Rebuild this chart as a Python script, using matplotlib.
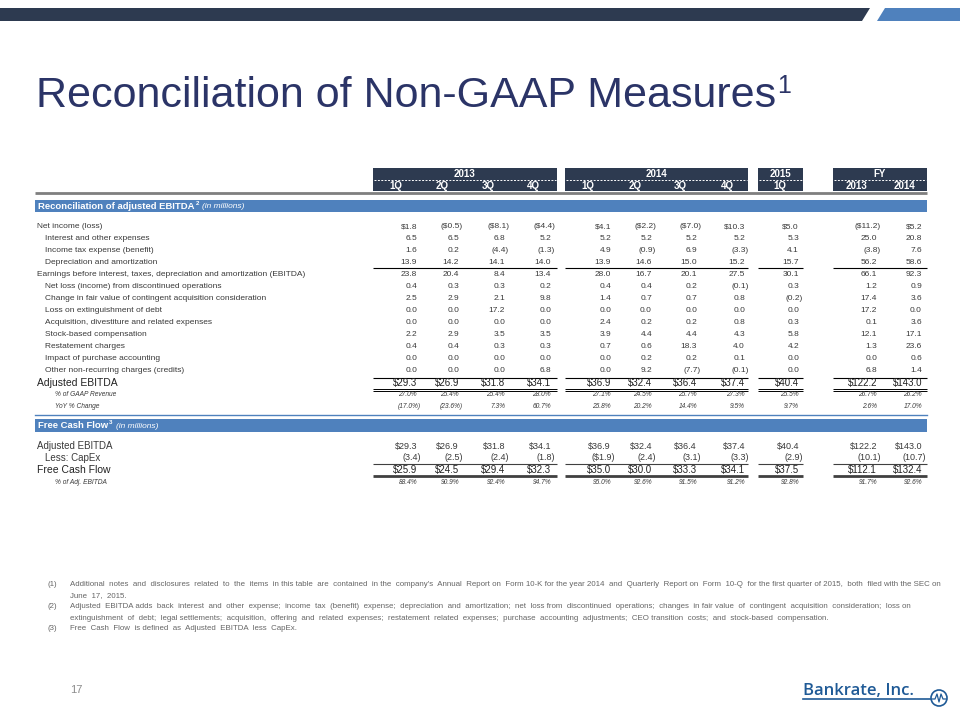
import matplotlib
matplotlib.use('Agg')
import matplotlib.pyplot as plt
from matplotlib.patches import Rectangle, Polygon, Circle

plt.rcParams['font.family'] = ['Liberation Sans', 'DejaVu Sans']

NAVY = '#2d3a50'
BLUE = '#4f81bd'
TITLE_C = '#2b3467'
TXT = '#3a3a3a'
GRAY = '#666666'

# ---- data (in millions) ----
years = ['2013', '2014', '2015', 'FY']
col_heads = ['1Q', '2Q', '3Q', '4Q', '1Q', '2Q', '3Q', '4Q', '1Q', '2013', '2014']

net_income = [1.8, -0.5, -8.1, -4.4, 4.1, -2.2, -7.0, 10.3, 5.0, -11.2, 5.2]
interest = [6.5, 6.5, 6.8, 5.2, 5.2, 5.2, 5.2, 5.2, 5.3, 25.0, 20.8]
income_tax = [1.6, 0.2, -4.4, -1.3, 4.9, -0.9, 6.9, -3.3, 4.1, -3.8, 7.6]
dep_amort = [13.9, 14.2, 14.1, 14.0, 13.9, 14.6, 15.0, 15.2, 15.7, 56.2, 58.6]
ebitda = [23.8, 20.4, 8.4, 13.4, 28.0, 16.7, 20.1, 27.5, 30.1, 66.1, 92.3]
disc_ops = [0.4, 0.3, 0.3, 0.2, 0.4, 0.4, 0.2, -0.1, 0.3, 1.2, 0.9]
contingent = [2.5, 2.9, 2.1, 9.8, 1.4, 0.7, 0.7, 0.8, -0.2, 17.4, 3.6]
debt_loss = [0.0, 0.0, 17.2, 0.0, 0.0, 0.0, 0.0, 0.0, 0.0, 17.2, 0.0]
acquisition = [0.0, 0.0, 0.0, 0.0, 2.4, 0.2, 0.2, 0.8, 0.3, 0.1, 3.6]
stock_comp = [2.2, 2.9, 3.5, 3.5, 3.9, 4.4, 4.4, 4.3, 5.8, 12.1, 17.1]
restatement = [0.4, 0.4, 0.3, 0.3, 0.7, 0.6, 18.3, 4.0, 4.2, 1.3, 23.6]
purchase_acct = [0.0, 0.0, 0.0, 0.0, 0.0, 0.2, 0.2, 0.1, 0.0, 0.0, 0.6]
other_charges = [0.0, 0.0, 0.0, 6.8, 0.0, 9.2, -7.7, -0.1, 0.0, 6.8, 1.4]
adj_ebitda = [29.3, 26.9, 31.8, 34.1, 36.9, 32.4, 36.4, 37.4, 40.4, 122.2, 143.0]
pct_revenue = [27.0, 25.4, 25.4, 28.0, 27.1, 24.5, 25.7, 27.3, 25.5, 26.7, 26.2]
yoy_change = [-17.0, -23.6, 7.3, 60.7, 25.8, 20.2, 14.4, 9.5, 9.7, 2.6, 17.0]

capex = [-3.4, -2.5, -2.4, -1.8, -1.9, -2.4, -3.1, -3.3, -2.9, -10.1, -10.7]
capex_dollar_cols = [4]
free_cash_flow = [25.9, 24.5, 29.4, 32.3, 35.0, 30.0, 33.3, 34.1, 37.5, 112.1, 132.4]
pct_adj_ebitda = [88.4, 90.9, 92.4, 94.7, 95.0, 92.6, 91.5, 91.2, 92.8, 91.7, 92.6]

footnotes = [
    ('(1)', ["Additional  notes  and  disclosures  related  to  the  items  in this table  are  contained  in the  company's  Annual  Report on  Form 10-K for the year 2014  and  Quarterly  Report on  Form  10-Q  for the first quarter of 2015,  both  filed with the SEC on",
             "June  17,  2015."]),
    ('(2)', ["Adjusted  EBITDA adds  back  interest  and  other  expense;  income  tax  (benefit)  expense;  depreciation  and  amortization;  net  loss from  discontinued  operations;  changes  in fair value  of  contingent  acquisition  consideration;  loss on",
             "extinguishment  of  debt;  legal settlements;  acquisition,  offering  and  related  expenses;  restatement  related  expenses;  purchase  accounting  adjustments;  CEO transition  costs;  and  stock-based  compensation."]),
    ('(3)', ["Free  Cash  Flow  is defined  as  Adjusted  EBITDA  less  CapEx."]),
]

# ---- layout (pixels) ----
col_right = [417, 459, 505, 551, 611, 652, 697, 745, 799, 877, 922]
head_x = [396, 442, 488, 533, 588, 635, 680, 727, 780, 857, 905]
spans = [(373, 557), (565, 748), (758, 803), (833, 927)]
L, R = 35, 927

fig = plt.figure(figsize=(9.6, 7.2), dpi=100)
ax = fig.add_axes([0, 0, 1, 1])
ax.set_xlim(0, 960)
ax.set_ylim(720, 0)
ax.axis('off')
renderer = fig.canvas.get_renderer()


def run(x, y, parts):
    # draw consecutive text pieces, each starts where the last ended
    for s, kw in parts:
        dy = kw.pop('dy', 0)
        gap = kw.pop('gap', 1)
        t = ax.text(x, y + dy, s, ha='left', **kw)
        x = t.get_window_extent(renderer).x1 + gap
    return x


def fmt(v, dollar=False, pct=False):
    s = f'{abs(v):.1f}'
    if pct:
        s += '%'
    if dollar:
        s = '$' + s
    if v < 0:
        s = '(' + s + ')'
    return s


def value_row(y, vals, dollar=False, pct=False, size=6, color=TXT, style='normal',
              dollar_cols=()):
    for i, v in enumerate(vals):
        s = fmt(v, dollar or i in dollar_cols, pct)
        x = col_right[i] + (4 if v < 0 else 0)
        ax.text(x, y, s, ha='right', va='center', fontsize=size, color=color,
                fontstyle=style)


def group_lines(y, color='black', lw=0.8):
    for x0, x1 in spans:
        ax.plot([x0, x1], [y, y], color=color, lw=lw, solid_capstyle='butt')


# top banner
ax.add_patch(Polygon([(0, 8), (870, 8), (862, 21), (0, 21)], closed=True, color=NAVY, lw=0))
ax.add_patch(Polygon([(885, 8), (960, 8), (960, 21), (877, 21)], closed=True, color=BLUE, lw=0))

# title
run(36, 107, [('Reconciliation of Non-GAAP Measures', dict(fontsize=31, color=TITLE_C, va='baseline')),
              ('1', dict(fontsize=18, color=TITLE_C, va='baseline', dy=-14))])

# column header boxes
for (x0, x1), yr in zip(spans, years):
    ax.add_patch(Rectangle((x0, 168), x1 - x0, 23, color=NAVY, lw=0))
    ax.text((x0 + x1) / 2, 174, yr, ha='center', va='center', fontsize=7,
            color='white', fontweight='bold')
    ax.plot([x0 + 1, x1 - 1], [180, 180], color='white', lw=0.7, ls=(0, (2, 1.5)))
for x, h in zip(head_x, col_heads):
    ax.text(x, 186, h, ha='center', va='center', fontsize=7, color='white', fontweight='bold')
ax.plot([L, R], [192.5, 192.5], color='#7f7f7f', lw=2, solid_capstyle='butt')

# section 1
ax.add_patch(Rectangle((L, 200), R - L, 12, color=BLUE, lw=0))
run(38, 206.5, [('Reconciliation of adjusted EBITDA', dict(fontsize=6.8, color='white', fontweight='bold', va='center')),
                ('2', dict(fontsize=4.5, color='white', fontweight='bold', va='center', dy=-3, gap=3)),
                ('(in millions)', dict(fontsize=6, color='white', fontstyle='italic', va='center', dy=0.5))])

rows = [
    ('Net income (loss)', 37, net_income, True),
    ('Interest and other expenses', 45, interest, False),
    ('Income tax expense (benefit)', 45, income_tax, False),
    ('Depreciation and amortization', 45, dep_amort, False),
    ('Earnings before interest, taxes, depreciation and amortization (EBITDA)', 37, ebitda, False),
    ('Net loss (income) from discontinued operations', 45, disc_ops, False),
    ('Change in fair value of contingent acquisition consideration', 45, contingent, False),
    ('Loss on extinguishment of debt', 45, debt_loss, False),
    ('Acquisition, divestiture and related expenses', 45, acquisition, False),
    ('Stock-based compensation', 45, stock_comp, False),
    ('Restatement charges', 45, restatement, False),
    ('Impact of purchase accounting', 45, purchase_acct, False),
    ('Other non-recurring charges (credits)', 45, other_charges, False),
]
y = 227
for label, x, vals, dollar in rows:
    ax.text(x, y, label, ha='left', va='center', fontsize=6, color=TXT)
    value_row(y, vals, dollar=dollar)
    y += 12

group_lines(267.5)
group_lines(377.5)

ax.text(37, 383, 'Adjusted EBITDA', ha='left', va='center', fontsize=7.5, color='#222222')
value_row(383, adj_ebitda, dollar=True, size=7, color='#222222')
group_lines(388.5, lw=0.7)
group_lines(391, lw=0.7)

ax.text(55, 394.5, '% of GAAP Revenue', ha='left', va='center', fontsize=4.8, color=TXT, fontstyle='italic')
value_row(394.5, pct_revenue, pct=True, size=4.8, style='italic')
ax.text(55, 406.5, 'YoY % Change', ha='left', va='center', fontsize=4.8, color=TXT, fontstyle='italic')
value_row(406.5, yoy_change, pct=True, size=4.8, style='italic')

ax.plot([L, R], [415, 415], color=BLUE, lw=1)

# section 2
ax.add_patch(Rectangle((L, 419), R - L, 13, color=BLUE, lw=0))
run(38, 425.5, [('Free Cash Flow', dict(fontsize=6.8, color='white', fontweight='bold', va='center')),
                ('3', dict(fontsize=4.5, color='white', fontweight='bold', va='center', dy=-3, gap=3)),
                ('(in millions)', dict(fontsize=6, color='white', fontstyle='italic', va='center', dy=0.5))])

ax.text(37, 446, 'Adjusted EBITDA', ha='left', va='center', fontsize=7, color=TXT)
value_row(446, adj_ebitda, dollar=True, size=6.5)
ax.text(45, 458, 'Less: CapEx', ha='left', va='center', fontsize=7, color=TXT)
value_row(458, capex, size=6.5, dollar_cols=capex_dollar_cols)
group_lines(464, color='#404040', lw=0.8)
ax.text(37, 470, 'Free Cash Flow', ha='left', va='center', fontsize=7.5, color='#222222')
value_row(470, free_cash_flow, dollar=True, size=7, color='#222222')
group_lines(476, color='#404040', lw=2)
ax.text(55, 482, '% of Adj. EBITDA', ha='left', va='center', fontsize=4.8, color=TXT, fontstyle='italic')
value_row(482, pct_adj_ebitda, pct=True, size=4.8, style='italic')

# footnotes
fy = 585
for num, lines in footnotes:
    ax.text(47, fy, num, ha='left', va='center', fontsize=5.7, color=GRAY)
    for line in lines:
        ax.text(70, fy, line, ha='left', va='center', fontsize=5.7, color=GRAY)
        fy += 11

# page number
ax.text(70, 690, '17', ha='left', va='center', fontsize=8, color='#8c8c8c')

# logo
LOGO = '#1f5a96'
ax.text(803, 695, 'Bankrate, Inc.', ha='left', va='baseline', fontsize=12,
        color=LOGO, family=['Open Sans', 'DejaVu Sans'], fontweight='semibold')
ax.plot([803, 930], [699, 699], color=LOGO, lw=1.2)
ax.add_patch(Circle((939, 698), 8, fill=False, ec=LOGO, lw=1.2))
ax.plot([932, 935, 937, 939, 941, 943, 946], [699, 699, 694, 702, 694, 699, 699], color=LOGO, lw=0.9)

fig.savefig('out.png', dpi=100)
